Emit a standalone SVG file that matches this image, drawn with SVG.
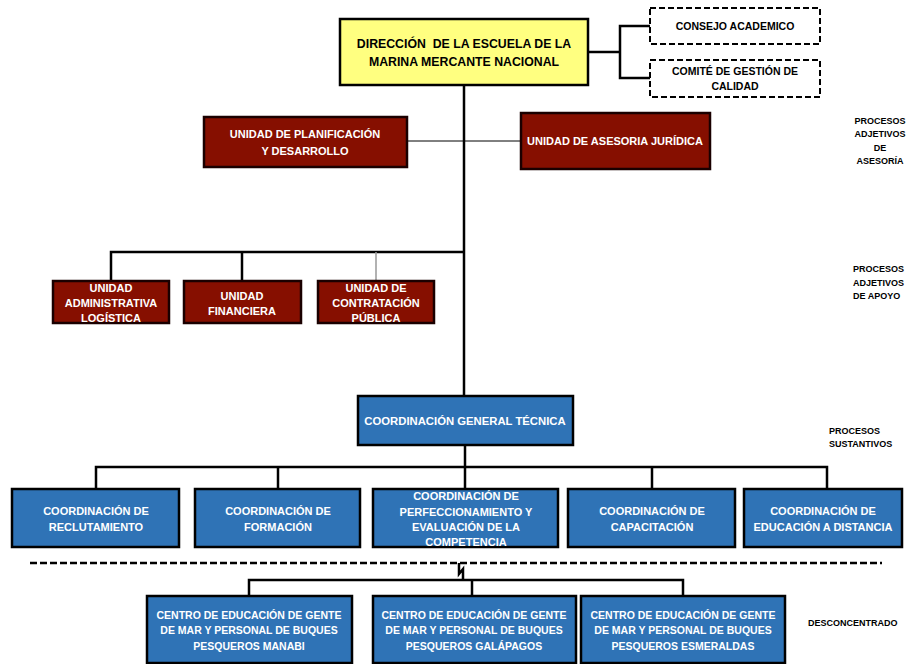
<svg xmlns="http://www.w3.org/2000/svg" width="907" height="664" viewBox="0 0 907 664">
<style>
text{font-family:"Liberation Sans",Arial,sans-serif;font-weight:bold;text-anchor:middle;white-space:pre}
.yel{fill:#FFFF80;stroke:#000;stroke-width:2.5}
.red{fill:#860F00;stroke:#1a0000;stroke-width:2.5}
.blue{fill:#2F73B6;stroke:#000;stroke-width:2.5}
.dash{fill:#fff;stroke:#000;stroke-width:2;stroke-dasharray:6,3}
.w{fill:#fff;font-size:11px}
.k{fill:#000;font-size:10.5px}
.lab{fill:#000;font-size:9px}
.ll{text-anchor:start}
.ln{fill:none;stroke:#000;stroke-width:2.5}
.thin{fill:none;stroke:#000;stroke-width:1}
.gray{fill:none;stroke:#999;stroke-width:1.5}
</style>
<rect width="907" height="664" fill="#fff"/>
<g id="connectors">
  <polyline class="ln" points="588,52 620,52"/>
  <polyline class="ln" points="650,26 620,26 620,78 650,78"/>
  <line class="ln" x1="464" y1="85" x2="464" y2="396"/>
  <line class="thin" x1="407" y1="141" x2="521" y2="141"/>
  <polyline class="ln" points="111,281 111,252 464,252"/>
  <line class="ln" x1="242" y1="252" x2="242" y2="281"/>
  <line class="gray" x1="376" y1="252" x2="376" y2="281"/>
  <line class="ln" x1="465" y1="445" x2="465" y2="489"/>
  <polyline class="ln" points="96,489 96,467 827,467 827,489"/>
  <line class="ln" x1="278" y1="467" x2="278" y2="489"/>
  <line class="ln" x1="652" y1="467" x2="652" y2="489"/>
  <line x1="30" y1="563" x2="882" y2="563" stroke="#000" stroke-width="2.5" stroke-dasharray="7,3"/>
  <polyline class="ln" stroke-width="2" points="459,563 459,574 463,569 463,580"/>
  <polyline class="ln" points="249,596 249,580 683,580 683,596"/>
  <line class="ln" x1="472" y1="580" x2="472" y2="596"/>
</g>
<g id="direccion">
  <rect class="yel" x="340" y="19" width="248" height="66"/>
  <text class="k" style="font-size:12.3px" x="464" y="48">DIRECCIÓN  DE LA ESCUELA DE LA</text>
  <text class="k" style="font-size:12.3px" x="464" y="66">MARINA MERCANTE NACIONAL</text>
</g>
<g id="consejo">
  <rect class="dash" x="650" y="8" width="170" height="36"/>
  <text class="k" x="735" y="30">CONSEJO ACADEMICO</text>
</g>
<g id="comite">
  <rect class="dash" x="650" y="60" width="170" height="37"/>
  <text class="k" x="735" y="75">COMITÉ DE GESTIÓN DE</text>
  <text class="k" x="735" y="90">CALIDAD</text>
</g>
<g id="planificacion">
  <rect class="red" x="204" y="117" width="203" height="50"/>
  <text class="w" x="305" y="138">UNIDAD DE PLANIFICACIÓN</text>
  <text class="w" x="305" y="155">Y DESARROLLO</text>
</g>
<g id="asesoria">
  <rect class="red" x="521" y="113" width="189" height="56"/>
  <text class="w" x="615" y="145">UNIDAD DE ASESORIA JURÍDICA</text>
</g>
<g id="lbl-asesoria">
  <text class="lab" x="880" y="124">PROCESOS</text>
  <text class="lab" x="880" y="137">ADJETIVOS</text>
  <text class="lab" x="880" y="151">DE</text>
  <text class="lab" x="880" y="164">ASESORÍA</text>
</g>
<g id="administrativa">
  <rect class="red" x="53" y="281" width="116" height="42"/>
  <text class="w" x="111" y="292">UNIDAD</text>
  <text class="w" x="111" y="307">ADMINISTRATIVA</text>
  <text class="w" x="111" y="322">LOGÍSTICA</text>
</g>
<g id="financiera">
  <rect class="red" x="184" y="281" width="117" height="42"/>
  <text class="w" x="242" y="300">UNIDAD</text>
  <text class="w" x="242" y="315">FINANCIERA</text>
</g>
<g id="contratacion">
  <rect class="red" x="318" y="281" width="116" height="42"/>
  <text class="w" x="376" y="292">UNIDAD DE</text>
  <text class="w" x="376" y="307">CONTRATACIÓN</text>
  <text class="w" x="376" y="322">PÚBLICA</text>
</g>
<g id="lbl-apoyo">
  <text class="lab ll" x="853" y="272">PROCESOS</text>
  <text class="lab ll" x="853" y="286">ADJETIVOS</text>
  <text class="lab ll" x="853" y="299">DE APOYO</text>
</g>
<g id="coord-general">
  <rect class="blue" x="358" y="396" width="215" height="49"/>
  <text class="w" style="font-size:11.3px" x="465" y="425">COORDINACIÓN GENERAL TÉCNICA</text>
</g>
<g id="lbl-sustantivos">
  <text class="lab ll" x="829" y="434">PROCESOS</text>
  <text class="lab ll" x="829" y="447">SUSTANTIVOS</text>
</g>
<g id="reclutamiento">
  <rect class="blue" x="12" y="489" width="167" height="58"/>
  <text class="w" x="96" y="515">COORDINACIÓN DE</text>
  <text class="w" x="96" y="531">RECLUTAMIENTO</text>
</g>
<g id="formacion">
  <rect class="blue" x="195" y="489" width="165" height="58"/>
  <text class="w" x="278" y="515">COORDINACIÓN DE</text>
  <text class="w" x="278" y="531">FORMACIÓN</text>
</g>
<g id="perfeccionamiento">
  <rect class="blue" x="373" y="489" width="185" height="58"/>
  <text class="w" x="466" y="500">COORDINACIÓN DE</text>
  <text class="w" x="466" y="516">PERFECCIONAMIENTO Y</text>
  <text class="w" x="466" y="531">EVALUACIÓN DE LA</text>
  <text class="w" x="466" y="546">COMPETENCIA</text>
</g>
<g id="capacitacion">
  <rect class="blue" x="568" y="489" width="167" height="58"/>
  <text class="w" x="652" y="515">COORDINACIÓN DE</text>
  <text class="w" x="652" y="531">CAPACITACIÓN</text>
</g>
<g id="distancia">
  <rect class="blue" x="744" y="489" width="158" height="58"/>
  <text class="w" x="823" y="515">COORDINACIÓN DE</text>
  <text class="w" x="823" y="531">EDUCACIÓN A DISTANCIA</text>
</g>
<g id="manabi">
  <rect class="blue" x="147" y="596" width="205" height="67"/>
  <text class="w" style="font-size:10.5px" x="249" y="619">CENTRO DE EDUCACIÓN DE GENTE</text>
  <text class="w" style="font-size:10.5px" x="249" y="634">DE MAR Y PERSONAL DE BUQUES</text>
  <text class="w" style="font-size:10.5px" x="249" y="650">PESQUEROS MANABI</text>
</g>
<g id="galapagos">
  <rect class="blue" x="373" y="596" width="203" height="67"/>
  <text class="w" style="font-size:10.5px" x="474" y="619">CENTRO DE EDUCACIÓN DE GENTE</text>
  <text class="w" style="font-size:10.5px" x="474" y="634">DE MAR Y PERSONAL DE BUQUES</text>
  <text class="w" style="font-size:10.5px" x="474" y="650">PESQUEROS GALÁPAGOS</text>
</g>
<g id="esmeraldas">
  <rect class="blue" x="581" y="596" width="204" height="67"/>
  <text class="w" style="font-size:10.5px" x="683" y="619">CENTRO DE EDUCACIÓN DE GENTE</text>
  <text class="w" style="font-size:10.5px" x="683" y="634">DE MAR Y PERSONAL DE BUQUES</text>
  <text class="w" style="font-size:10.5px" x="683" y="650">PESQUEROS ESMERALDAS</text>
</g>
<g id="lbl-desconcentrado">
  <text class="lab ll" x="808" y="626">DESCONCENTRADO</text>
</g>
</svg>
